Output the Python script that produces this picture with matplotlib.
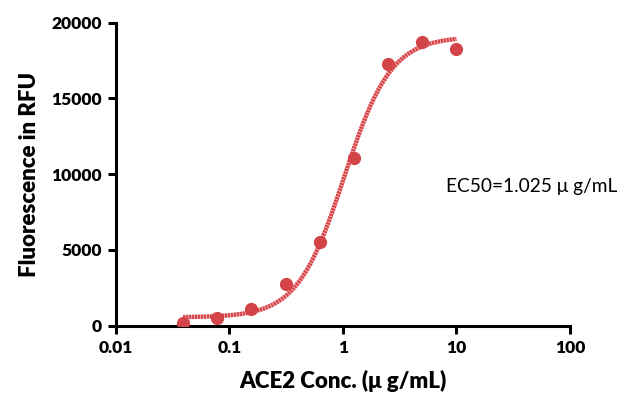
import numpy as np
import matplotlib.pyplot as plt

plt.rcParams['font.family'] = ['Lato', 'DejaVu Sans']

# ACE2 concentrations (ug/mL) and measured fluorescence (RFU)
conc = [0.039, 0.078, 0.156, 0.3125, 0.625, 1.25, 2.5, 5, 10]
rfu = [180, 490, 1120, 2760, 5550, 11080, 17290, 18700, 18260]

# 4PL fit parameters
bottom = 550
top = 19080
ec50 = 1.025
hill = 2.1

xfit = np.logspace(np.log10(conc[0]), np.log10(conc[-1]), 300)
yfit = bottom + (top - bottom) / (1 + (ec50 / xfit) ** hill)

red = '#d8464a'

fig = plt.figure(figsize=(6.28, 3.96), dpi=100)
ax = fig.add_axes([0.1847, 0.1775, 0.7229, 0.7652])

ax.plot(xfit, yfit, color=red, lw=3.2, ls=(0, (0.55, 0.12)), dash_capstyle='butt', zorder=2)
ax.plot(conc, rfu, 'o', color='#d24448', ms=8.5, zorder=3)

ax.set_xscale('log')
ax.set_xlim(0.01, 100)
ax.set_ylim(0, 20000)
ax.set_xticks([0.01, 0.1, 1, 10, 100])
ax.set_xticklabels(['0.01', '0.1', '1', '10', '100'])
ax.minorticks_off()
ax.set_yticks([0, 5000, 10000, 15000, 20000])

for s in ['top', 'right']:
    ax.spines[s].set_visible(False)
for s in ['left', 'bottom']:
    ax.spines[s].set_linewidth(2.2)
ax.tick_params(width=2.2, length=6, labelsize=12.5, pad=4)
for lab in ax.get_xticklabels() + ax.get_yticklabels():
    lab.set_fontweight('heavy')

ax.set_xlabel('ACE2 Conc. (μ g/mL)', fontsize=16, fontweight='heavy', labelpad=10)
ax.set_ylabel('Fluorescence in RFU', fontsize=16, fontweight='heavy', labelpad=8)

ax.text(0.727, 0.461, 'EC50=1.025 μ g/mL', transform=ax.transAxes,
        fontsize=13.8, ha='left', va='center')

fig.savefig('out.png', dpi=100)
